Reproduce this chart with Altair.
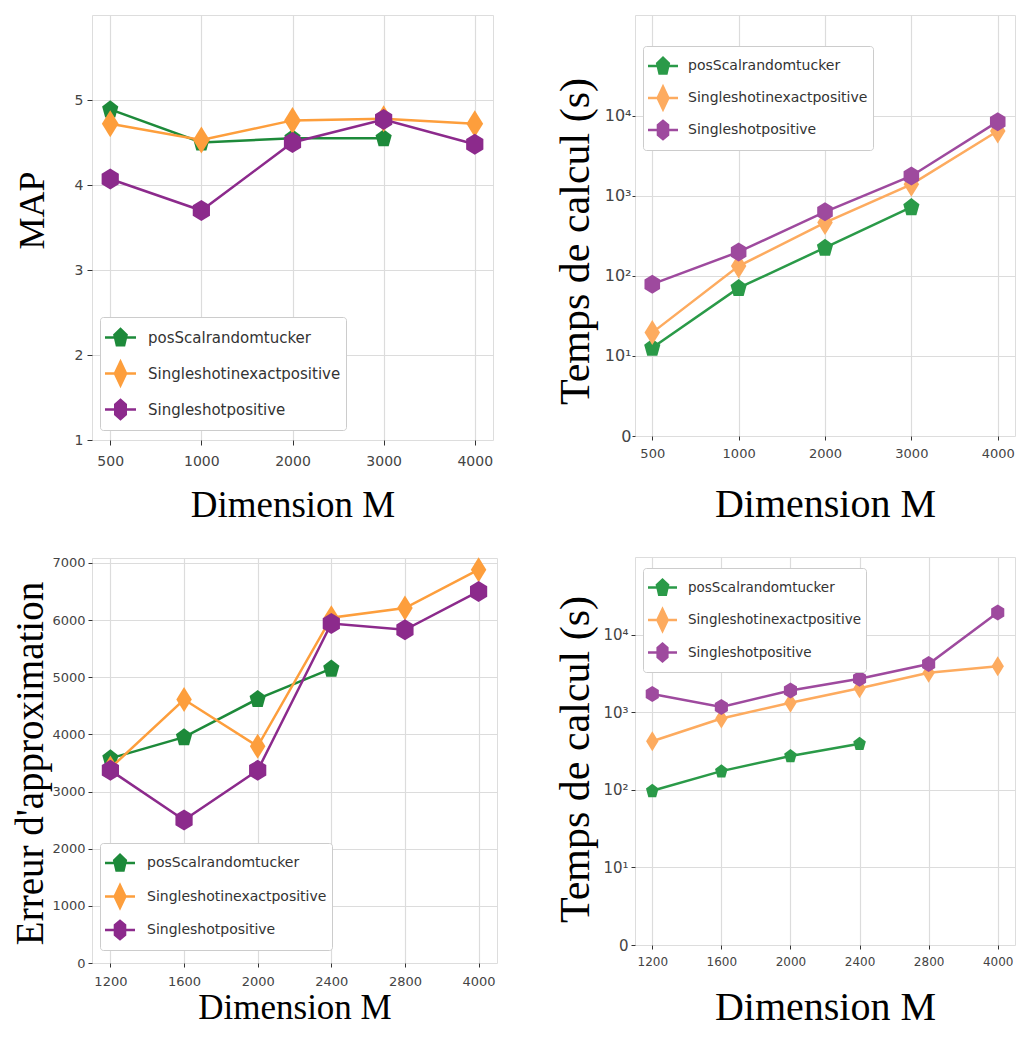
import altair as alt
import pandas as pd

SERIES = ["posScalrandomtucker", "Singleshotinexactpositive", "Singleshotpositive"]

# Top-left panel: MAP vs Dimension M
MAP_DIMS = ["500", "1000", "2000", "3000", "4000"]
MAP_GREEN = [4.89, 4.50, 4.55, 4.55]
MAP_ORANGE = [4.72, 4.53, 4.76, 4.78, 4.72]
MAP_PURPLE = [4.07, 3.70, 4.50, 4.77, 4.48]
MAP_TICKS = [1, 2, 3, 4, 5]

# Top-right panel: computing time (log)
TIME1_DIMS = ["500", "1000", "2000", "3000", "4000"]
TIME1_GREEN = [12.7, 71, 226, 727]
TIME1_ORANGE = [19.6, 133, 465, 1400, 6500]
TIME1_PURPLE = [79, 200, 635, 1780, 8500]

# Bottom-left panel: approximation error
ERR_DIMS = ["1200", "1600", "2000", "2400", "2800", "4000"]
ERR_GREEN = [3580, 3950, 4620, 5150]
ERR_ORANGE = [3410, 4610, 3790, 6040, 6210, 6880]
ERR_PURPLE = [3370, 2500, 3370, 5940, 5830, 6500]
ERR_TICKS = [0, 1000, 2000, 3000, 4000, 5000, 6000, 7000]

# Bottom-right panel: computing time (log)
TIME2_DIMS = ["1200", "1600", "2000", "2400", "2800", "4000"]
TIME2_GREEN = [97, 174, 273, 392]
TIME2_ORANGE = [423, 830, 1320, 2040, 3220, 3900]
TIME2_PURPLE = [1720, 1170, 1900, 2700, 4170, 19200]

LOG_TICKS = [1, 10, 100, 1000, 10000]
LOG_TICK_LABELS = ["0", "10¹", "10²", "10³", "10⁴"]

COLORS_LEFT = ["#1d8a3a", "#fd9e3c", "#8c2a8c"]
COLORS_RIGHT = ["#2a9a48", "#fdab5f", "#9e4a9e"]

SERIF = "Liberation Serif"
SANS = "DejaVu Sans"
GRID = "#dcdcdc"

MARKERS = [
    "M0,-1L0.9,-0.32L0.56,0.9L-0.56,0.9L-0.9,-0.32Z",
    "M0,-1L0.62,0L0,1L-0.62,0Z",
    "M0,-1L0.82,-0.5L0.82,0.5L0,1L-0.82,0.5L-0.82,-0.5Z",
]
# legend keys: full-height box anchor, line stub, then the marker
STUB = "M0,-1M0,1M-1,-0.08L1,-0.08L1,0.08L-1,0.08Z"
LEGEND_MARKERS = [
    STUB + "M0,-0.66L0.48,-0.2L0.3,0.58L-0.3,0.58L-0.48,-0.2Z",
    STUB + "M0,-0.95L0.45,0L0,0.95L-0.45,0Z",
    STUB + "M0,-0.72L0.42,-0.36L0.42,0.36L0,0.72L-0.42,0.36L-0.42,-0.36Z",
]


def long_df(dims, green, orange, purple):
    rows = []
    for s, vals in zip(SERIES, [green, orange, purple]):
        for i, v in enumerate(vals):
            rows.append({"series": s, "dim": dims[i], "idx": i, "value": v})
    return pd.DataFrame(rows)


def log_label_expr():
    parts = [f"datum.value == {v} ? '{l}'" for v, l in zip(LOG_TICKS, LOG_TICK_LABELS)]
    return " : ".join(parts) + " : ''"


def y_axis(title, values, bottom, title_size, title_x, title_y, tick_size,
           label_pad, label_size, label_expr=None):
    kw = dict(
        values=values, title=title, titleFont=SERIF, titleFontSize=title_size,
        titleFontWeight="normal", titleColor="#000000", titleAngle=270,
        titleAlign="center", titleBaseline="middle", titleX=title_x, titleY=title_y,
        tickSize=tick_size, tickColor="#333333", tickWidth=1,
        labelPadding=label_pad, labelFont=SANS, labelFontSize=label_size,
        labelColor="#444444", grid=True,
        gridColor={"condition": {"test": f"datum.value == {bottom}", "value": "transparent"},
                   "value": GRID},
        gridWidth=1.2, domain=False, format="d",
    )
    if label_expr:
        kw["labelExpr"] = label_expr
    return alt.Axis(**kw)


def x_axis(label_size, label_pad, title_size, title_y, tick_size):
    return alt.Axis(
        title="Dimension M", titleFont=SERIF, titleFontSize=title_size,
        titleFontWeight="normal", titleColor="#000000", titleBaseline="alphabetic",
        titleY=title_y, labelAngle=0, labelFont=SANS, labelFontSize=label_size,
        labelColor="#444444", labelPadding=label_pad, tickSize=tick_size,
        tickColor="#333333", grid=True, gridColor=GRID, gridWidth=1.2, domain=False,
    )


def legend(x, y, label_size, sym, row_pad, offset):
    return alt.Legend(
        title=None, orient="none", legendX=x, legendY=y, fillColor="white",
        strokeColor="#cccccc", cornerRadius=3, padding=5, labelFont=SANS,
        labelFontSize=label_size, labelColor="#333333", labelOffset=offset,
        labelLimit=400, symbolSize=sym, symbolStrokeWidth=0, symbolOpacity=1,
        rowPadding=row_pad,
    )


def panel(df, dims, colors, w, h, xpad, yscale, yaxis, xaxis, leg, sizes):
    x = alt.X("dim:O", sort=dims, scale=alt.Scale(type="point", domain=dims, padding=xpad), axis=xaxis)
    y = alt.Y("value:Q", scale=yscale, axis=yaxis)
    base = alt.Chart(df)
    layers = []
    for s, c, p, sz in zip(SERIES, colors, MARKERS, sizes):
        sub = base.transform_filter(alt.datum.series == s)
        layers.append(sub.mark_line(color=c, strokeWidth=2.5).encode(x=x, y=y, order=alt.Order("idx:Q")))
        layers.append(sub.mark_point(shape=p, filled=True, opacity=1, size=sz, color=c, strokeWidth=0)
                      .encode(x=x, y=y))
    key = base.mark_point(filled=True, opacity=0, strokeWidth=0).encode(
        x=x, y=y,
        color=alt.Color("series:N", scale=alt.Scale(domain=SERIES, range=colors), legend=leg),
        shape=alt.Shape("series:N", scale=alt.Scale(domain=SERIES, range=LEGEND_MARKERS), legend=leg),
    )
    layers.append(key)
    return alt.layer(*layers).properties(width=w, height=h)


tl = panel(
    long_df(MAP_DIMS, MAP_GREEN, MAP_ORANGE, MAP_PURPLE), MAP_DIMS, COLORS_LEFT,
    401, 425, 0.2,
    alt.Scale(domain=[1, 6], nice=False, zero=False),
    y_axis("MAP", MAP_TICKS, 1, 36, -60, 195, 5, 4, 14),
    x_axis(14, 9, 37, 76, 5),
    legend(8, 302, 15, 961, 5, 12),
    [324, 729, 441],
)

tr = panel(
    long_df(TIME1_DIMS, TIME1_GREEN, TIME1_ORANGE, TIME1_PURPLE), TIME1_DIMS, COLORS_RIGHT,
    380, 421, 0.2,
    alt.Scale(type="log", domain=[1, 183000], nice=False),
    y_axis("Temps de calcul (s)", LOG_TICKS, 1, 42, -60, 226, 3, 1, 16, log_label_expr()),
    x_axis(13, 7, 40, 80, 4),
    legend(8, 31, 14, 900, 2, 10),
    [324, 625, 361],
)

bl = panel(
    long_df(ERR_DIMS, ERR_GREEN, ERR_ORANGE, ERR_PURPLE), ERR_DIMS, COLORS_LEFT,
    405, 405, 0.25,
    alt.Scale(domain=[0, 7085], nice=False, zero=False),
    y_axis("Erreur d'approximation", ERR_TICKS, 0, 39, -62, 205, 4, 3, 13),
    x_axis(13, 8, 35, 55, 4),
    legend(8, 285, 14, 900, 3.5, 12),
    [324, 625, 441],
)

br = panel(
    long_df(TIME2_DIMS, TIME2_GREEN, TIME2_ORANGE, TIME2_PURPLE), TIME2_DIMS, COLORS_RIGHT,
    380, 388, 0.25,
    alt.Scale(type="log", domain=[1, 100000], nice=False),
    y_axis("Temps de calcul (s)", LOG_TICKS, 1, 42, -60, 202, 4, 3, 15, log_label_expr()),
    x_axis(12, 7, 40, 74, 4),
    legend(8, 11, 13.5, 841, 3.5, 11),
    [196, 400, 256],
)

chart = (
    alt.concat(tl, tr, bl, br, columns=2, spacing=alt.RowColnumber(row=31, column=55))
    .resolve_scale(color="independent", shape="independent")
    .resolve_legend(color="independent", shape="independent")
    .properties(align="none", bounds="full",
                padding={"left": 2, "top": 6, "right": 2, "bottom": 2})
    .configure_view(stroke="#333333", strokeWidth=1.5)
    .configure(background="white")
)

chart.save("out.html", embed_options={"renderer": "svg", "actions": False})
